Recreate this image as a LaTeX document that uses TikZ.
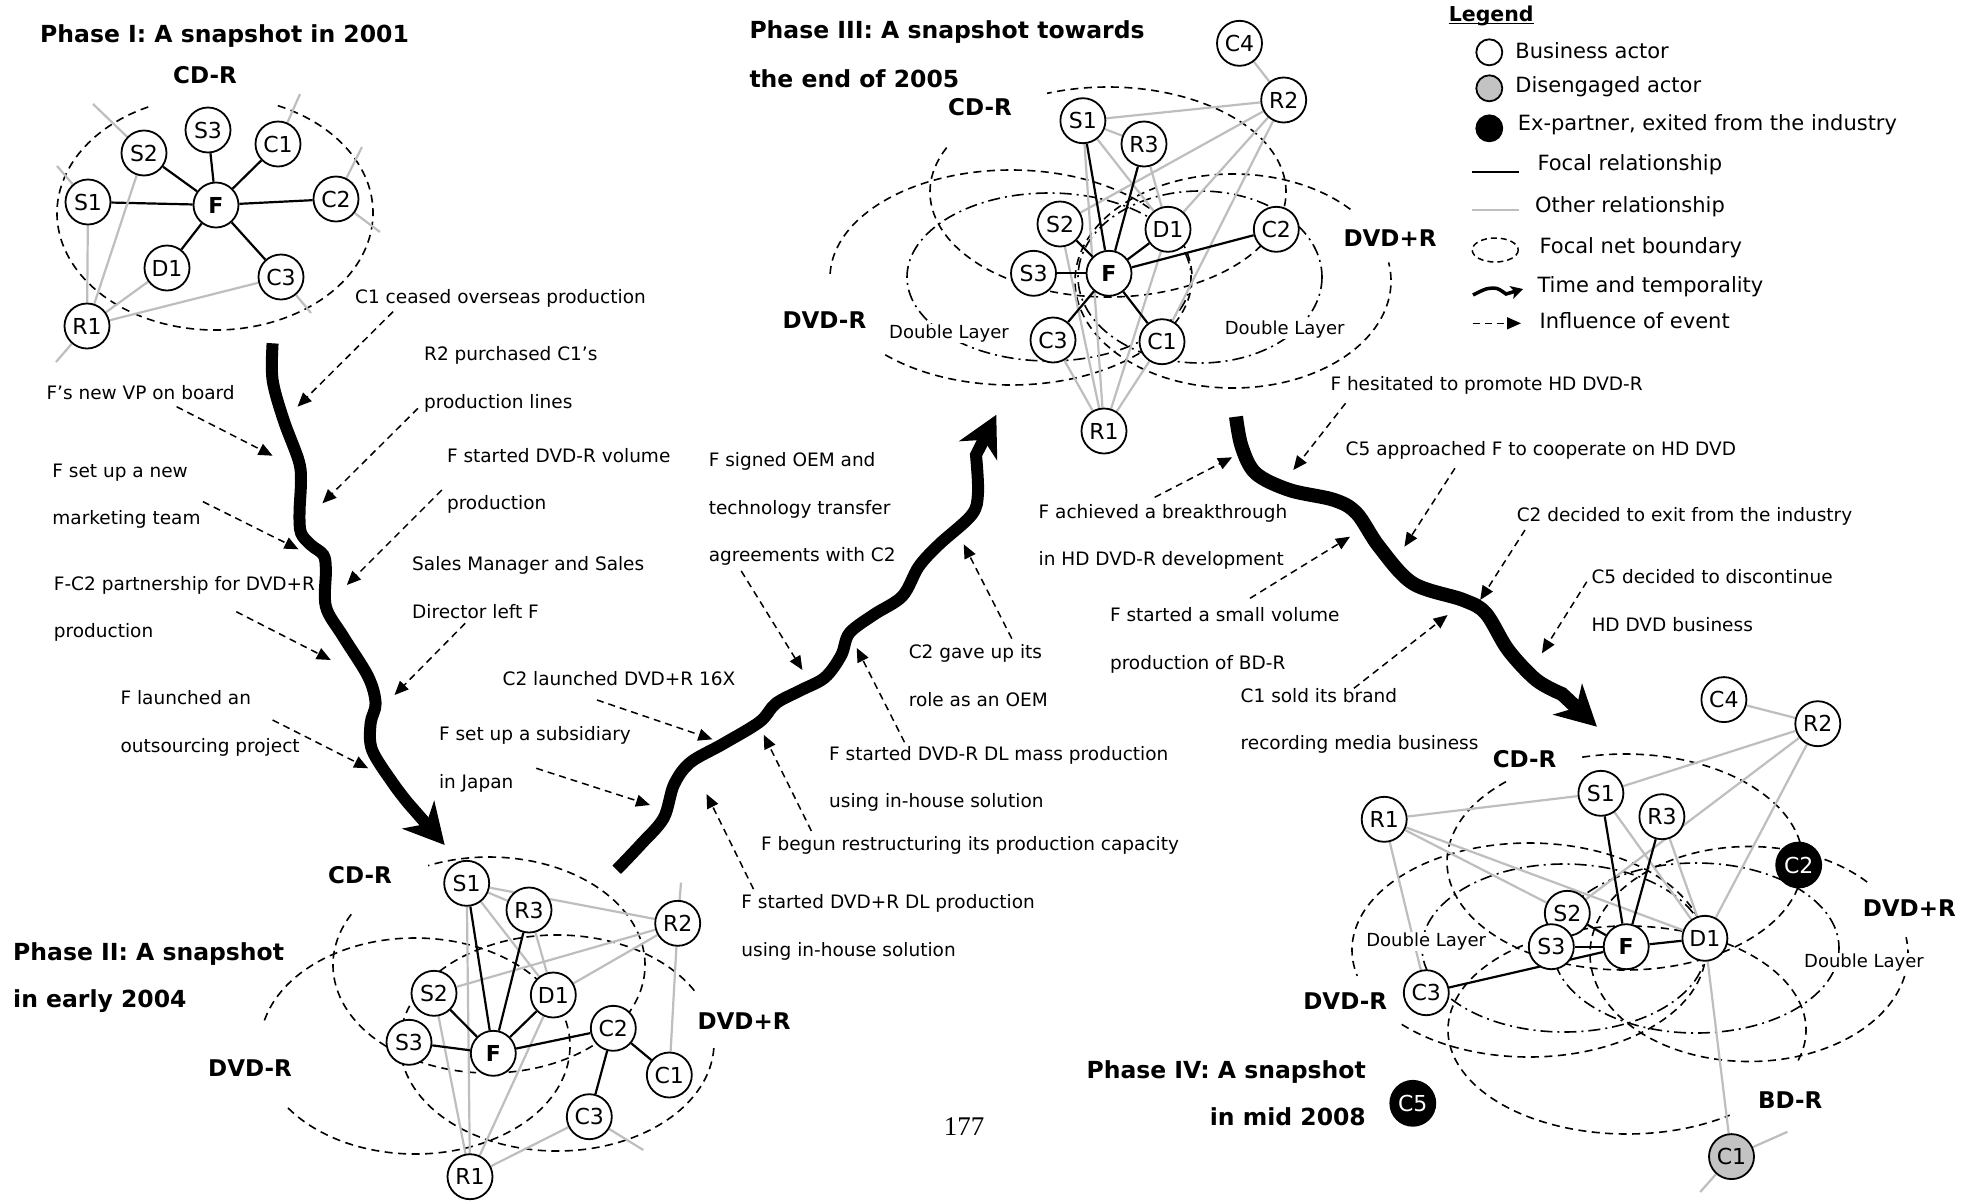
\documentclass[tikz,border=0pt]{standalone}
\usepackage{fontspec}
\setmainfont{DejaVu Sans}
\newfontfamily\folio{Liberation Serif}
\usetikzlibrary{arrows.meta}

\definecolor{relgrey}{HTML}{BEBEBE}
\definecolor{idlegrey}{HTML}{C3C3C3}

\pgfdeclarelayer{edges}
\pgfsetlayers{edges,main}

\newcommand\actorfont{\fontsize{22}{24}\selectfont}
\newcommand\eventfont{\fontsize{18.5}{47.5}\selectfont}
\newcommand\marketfont{\fontsize{23}{26}\selectfont\bfseries}
\newcommand\phasefont{\fontsize{23.5}{26}\selectfont\bfseries}
\newcommand\keyfont{\fontsize{21}{24}\selectfont}

% boundary arc: centre x, centre y, radii, first and last angle (counter-clockwise)
\newcommand\netarc[6]{%
  \draw[boundary] (#1,#2) ++(-#5:#3 and #4)
    arc[start angle=-#5,end angle=-#6,x radius=#3,y radius=#4];}

\begin{document}
\begin{tikzpicture}[x=1pt,y=-1pt,
  actor/.style={circle,draw,line width=1.8pt,fill=white,minimum size=45pt,inner sep=0pt,font=\actorfont},
  firm/.style={actor,font=\actorfont\bfseries},
  gone/.style={actor,fill=black,text=white},
  idle/.style={actor,fill=idlegrey},
  focal/.style={line width=2.2pt},
  other/.style={line width=2.2pt,draw=relgrey},
  boundary/.style={line width=1.6pt,dash pattern=on 8pt off 5.5pt},
  dlayer/.style={line width=1.6pt,dash pattern=on 12pt off 5pt on 2pt off 5pt},
  market/.style={inner sep=0pt,font=\marketfont},
  dltext/.style={fill=white,inner sep=1pt,font=\fontsize{18}{20}\selectfont},
  phase/.style={anchor=base west,inner sep=0pt,font=\phasefont},
  evt/.style={anchor=west,align=left,inner sep=0pt,font=\eventfont},
  infl/.style={line width=1.5pt,dash pattern=on 7pt off 5pt,-{Triangle[length=14pt,width=12pt]}},
  timeflow/.style={line width=12pt,-{Stealth[length=40pt,width=42pt,inset=12pt]}},
  keytext/.style={anchor=west,inner sep=0pt,font=\keyfont},
  keyactor/.style={circle,draw,line width=1.8pt,minimum size=26pt,inner sep=0pt}
]
\useasboundingbox (0,0) rectangle (1981,1200);
\begin{pgfonlayer}{edges}
  \fill[white] (0,0) rectangle (1981,1200);
\end{pgfonlayer}

% ---------- Phase I: 2001
\node[phase] (I-title) at (40,42.7) {Phase I: A snapshot in 2001};
\node[market] (I-cdr) at (205,75) {CD-R};
\foreach \n/\x/\y in {S3/208/130,C1/278/144,S2/144/153,S1/88/202,C2/336/199,D1/167/268,C3/281/277,R1/87/326}
  \node[actor] (I-\n) at (\x,\y) {\n};
\node[firm] (I-F) at (216,205) {F};
\begin{pgfonlayer}{edges}
  \netarc{215}{213}{158}{117}{115}{428}
  \foreach \m in {S1,S2,S3,C1,C2,D1,C3} \draw[focal] (I-F) -- (I-\m);
  \foreach \u/\v in {S1/R1,S2/R1,D1/R1,C3/R1} \draw[other] (I-\u) -- (I-\v);
  \foreach \n/\x/\y [count=\k] in {S2/93/104,S1/57/166,C1/300/94,C2/362/147,C2/380/232,C3/311/313,R1/56/362}{
    \coordinate (I-end\k) at (\x,\y);
    \draw[other] (I-\n) -- (I-end\k);}
\end{pgfonlayer}

% ---------- Phase II: early 2004
\node[phase] (II-title) at (13,960) {Phase II: A snapshot};
\node[phase] (II-title2) at (13,1007) {in early 2004};
\node[market] (II-cdr) at (360,875) {CD-R};
\node[market] (II-dvdm) at (250,1068) {DVD-R};
\node[market] (II-dvdp) at (744,1021) {DVD+R};
\foreach \n/\x/\y in {S1/466.7/883.3,R3/529/910,R2/677.7/923.3,S2/434/993.3,D1/553.3/995,C2/613.3/1028.3,S3/409/1042.3,C1/669.3/1075,C3/589.3/1116.7,R1/470/1176.7}
  \node[actor] (II-\n) at (\x,\y) {\n};
\node[firm] (II-F) at (493.3,1053.3) {F};
\begin{pgfonlayer}{edges}
  \netarc{489}{965}{156}{108}{152}{473}
  \netarc{415}{1046}{155}{108}{215}{529}
  \netarc{557}{1043}{157}{108}{29}{358}
  \foreach \u/\v in {S1/R3,S1/R2,S1/D1,R3/D1,S2/R2,D1/R2,R2/C1,S1/R1,S2/R1,D1/R1,R1/C3}
    \draw[other] (II-\u) -- (II-\v);
  \foreach \m in {S1,R3,S2,D1,S3,C2} \draw[focal] (II-F) -- (II-\m);
  \draw[focal] (II-C2) -- (II-C1);
  \draw[focal] (II-C2) -- (II-C3);
  \foreach \n/\x/\y [count=\k] in {R2/681/882.7,C3/643.3/1150}{
    \coordinate (II-end\k) at (\x,\y);
    \draw[other] (II-\n) -- (II-end\k);}
\end{pgfonlayer}

% ---------- Phase III: end of 2005
\node[phase] (III-title) at (749.3,38.5) {Phase III: A snapshot towards};
\node[phase] (III-title2) at (749.3,87) {the end of 2005};
\node[market] (III-cdr) at (980,106.7) {CD-R};
\node[market] (III-dvdm) at (824.4,320) {DVD-R};
\node[market] (III-dvdp) at (1390,238.3) {DVD+R};
\foreach \n/\x/\y in {C4/1239.5/43.3,R2/1283.7/100,S1/1082.9/120.7,R3/1144/144,S2/1060/224,D1/1168/229.3,C2/1276.3/229.3,S3/1033.5/273.3,C3/1053/340,C1/1162/341.7,R1/1104/431}
  \node[actor] (III-\n) at (\x,\y) {\n};
\node[firm] (III-F) at (1109,273.3) {F};
\node[dltext] (III-dl1) at (949,333.3) {Double Layer};
\node[dltext] (III-dl2) at (1284.7,329.3) {Double Layer};
\begin{pgfonlayer}{edges}
  \netarc{1108}{192}{178}{105}{155}{470}
  \netarc{1011}{277.5}{181}{107.5}{226}{541}
  \netarc{1233}{281}{158}{107}{42}{370}
  \draw[dlayer] (1049,277) ellipse[x radius=142,y radius=84];
  \draw[dlayer] (1200,277) ellipse[x radius=122,y radius=86];
  \foreach \u/\v in {S1/R2,S1/R3,S1/D1,R3/D1,R2/S2,R2/D1,R2/C1,R2/C4,R1/C3,R1/S2,R1/S1,R1/D1,R1/C1}
    \draw[other] (III-\u) -- (III-\v);
  \foreach \m in {S1,R3,S2,D1,C2,S3,C3,C1} \draw[focal] (III-F) -- (III-\m);
\end{pgfonlayer}

% ---------- Phase IV: mid 2008
\node[phase,anchor=base east] (IV-title) at (1366,1078) {Phase IV: A snapshot};
\node[phase,anchor=base east] (IV-title2) at (1366,1125) {in mid 2008};
\node[market] (IV-cdr) at (1524.6,759.2) {CD-R};
\node[market] (IV-dvdp) at (1909.3,908.3) {DVD+R};
\node[market] (IV-dvdm) at (1345.2,1000.8) {DVD-R};
\node[market] (IV-bdr) at (1790.3,1100) {BD-R};
\foreach \n/\x/\y in {C4/1723.9/699.6,R2/1817.8/723.7,S1/1600.9/793.3,R3/1661.9/816.7,R1/1384.2/819.3,S2/1567.3/913.3,D1/1704.9/938.3,S3/1551.3/946.7,C3/1426.3/992.7}
  \node[actor] (IV-\n) at (\x,\y) {\n};
\node[firm] (IV-F) at (1626.2,946.7) {F};
\node[gone] (IV-C2) at (1798.7,865) {C2};
\node[gone] (IV-C5) at (1412.8,1103.3) {C5};
\node[idle] (IV-C1) at (1731.5,1156.6) {C1};
\node[dltext] (IV-dl1) at (1426.2,941.7) {Double Layer};
\node[dltext] (IV-dl2) at (1864,962.3) {Double Layer};
\begin{pgfonlayer}{edges}
  \netarc{1625}{862}{178}{108}{132}{465}
  \netarc{1529}{950}{177}{107}{224}{554}
  \netarc{1749}{954}{159}{107.5}{42}{369}
  \netarc{1627}{1030}{179}{104}{343}{665}
  \draw[dlayer] (1564,948) ellipse[x radius=142,y radius=84];
  \draw[dlayer] (1696,948) ellipse[x radius=143,y radius=85];
  \foreach \u/\v in {R1/S1,R1/S2,R1/D1,R1/C3,S1/R2,S1/D1,R3/D1,R2/S2,R2/D1,R2/C4,D1/C1}
    \draw[other] (IV-\u) -- (IV-\v);
  \foreach \m in {S1,R3,S2,S3,D1,C3} \draw[focal] (IV-F) -- (IV-\m);
  \foreach \n/\x/\y [count=\k] in {C1/1787.4/1131.8,C1/1700.2/1192}{
    \coordinate (IV-end\k) at (\x,\y);
    \draw[other] (IV-\n) -- (IV-end\k);}
\end{pgfonlayer}

% ---------- time and temporality
\draw[timeflow] plot[smooth,tension=0.55] coordinates {(272.6,343.3) (272.6,380) (283.6,420) (298.5,460) (301,480) (299.5,513) (301,533) (311,545) (323.4,555) (325.9,570) (325.9,606.7) (343.3,636.7) (368.2,676.7) (375.6,703.3) (370.6,723.3) (372.1,750) (393,783.3) (408,803)} -- (444.7,845);
\draw[timeflow] plot[smooth,tension=0.55] coordinates {(616.7,869.8) (641.2,844) (663.7,818) (673.9,784.8) (690.2,762.6) (722.9,744) (759.6,721.9) (775.9,703.4) (800.4,690.4) (824.9,677.5) (841.2,655.3) (849.4,633.1) (873.9,614.6) (902.4,596.1) (918.8,566.5) (939.2,544.3) (971.8,514.7) (978,492.5) (976,455)} -- (996.3,414.8);
\draw[timeflow,line width=14pt] plot[smooth,tension=0.55] coordinates {(1236,416.7) (1241.7,446.7) (1255.7,473.3) (1289.4,490) (1334.3,500) (1356.7,513.3) (1379.1,546.7) (1412.8,583.3) (1463.3,600) (1485.8,613.3) (1508.2,650) (1536.3,680) (1562,694)} -- (1596.9,726.7);

% ---------- events
\foreach \k/\x/\y/\t in {
  1/355/298.3/{C1 ceased overseas production},
  2/424/379.4/{R2 purchased C1’s\\production lines},
  3/46.3/392.7/{F’s new VP on board},
  4/52.2/496.4/{F set up a new\\marketing team},
  5/446.8/480.9/{F started DVD-R volume\\production},
  6/412/587.5/{Sales Manager and Sales\\Director left F},
  7/53.7/608.9/{F-C2 partnership for DVD+R\\production},
  8/120.4/723.4/{F launched an\\outsourcing project},
  9/502.5/678.3/{C2 launched DVD+R 16X},
  10/438.8/759.4/{F set up a subsidiary\\in Japan},
  11/708.6/509.1/{F signed OEM and\\technology transfer\\agreements with C2},
  12/908.6/675.7/{C2 gave up its\\role as an OEM},
  13/829/778.9/{F started DVD-R DL mass production\\using in-house solution},
  14/760.8/845.8/{F begun restructuring its production capacity},
  15/741.2/927.6/{F started DVD+R DL production\\using in-house solution},
  16/1330.3/385/{F hesitated to promote HD DVD-R},
  17/1345.5/450.7/{C5 approached F to cooperate on HD DVD},
  18/1038.5/536.7/{F achieved a breakthrough\\in HD DVD-R development},
  19/1516.6/516.7/{C2 decided to exit from the industry},
  20/1591.3/600.5/{C5 decided to discontinue\\HD DVD business},
  21/1109.8/640.4/{F started a small volume\\production of BD-R},
  22/1240.5/720.9/{C1 sold its brand\\recording media business}}
  \node[evt] (ev\k) at (\x,\y) {\t};

\foreach \k/\ax/\ay/\bx/\by in {
  1/393/311.7/297.5/406.7, 2/418/408.3/322.4/503.3, 3/176.6/406.7/272.6/455.7,
  4/203/501.7/298.5/549.3, 5/441.8/490/346.8/585, 6/465.2/623.3/394.5/695,
  7/236.3/611.7/330.8/660, 8/272.6/720/368.2/768.3, 9/597/700/712.4/739.3,
  10/536.3/768.3/650/805, 11/741.2/570.9/802.4/670, 12/1011.8/638.6/963.7/544.3,
  13/904.5/742.2/856.7/647.9, 14/811.4/831/763.7/734.8, 15/753.5/889.1/706.5/794,
  16/1345.5/403.3/1293.3/470, 17/1454.9/468.3/1404.4/546.7, 18/1154.7/497.3/1232.1/457.3,
  19/1525/530/1480.2/600, 20/1586.8/581.7/1541.9/653.3, 21/1250/598.3/1350/536.7,
  22/1353.9/688.3/1447.6/615}{
  \coordinate (ev\k-from) at (\ax,\ay);
  \coordinate (ev\k-to) at (\bx,\by);
  \draw[infl] (ev\k-from) -- (ev\k-to);}

% ---------- legend
\node[anchor=base west,inner sep=0pt,font=\fontsize{20.5}{24}\selectfont\bfseries] (lg) at (1448.6,21.7) {Legend};
\draw[line width=1.8pt] ([yshift=-1.8pt]lg.base west) -- ([yshift=-1.8pt]lg.base east);
\node[keyactor,fill=white] (lg-a) at (1489.3,52.3) {};
\node[keyactor,fill=idlegrey] (lg-b) at (1489.3,88.3) {};
\node[keyactor,fill=black] (lg-c) at (1489.3,128.3) {};
\node[keytext] (lg-at) at (1515.2,50.7) {Business actor};
\node[keytext] (lg-bt) at (1515.2,86.7) {Disengaged actor};
\node[keytext] (lg-ct) at (1517.6,124.3) {Ex-partner, exited from the industry};
\draw[focal] (1471.7,171.7) -- (1519.4,171.7);
\node[keytext] (lg-dt) at (1537.3,165) {Focal relationship};
\draw[other,line width=2.6pt] (1471.7,210) -- (1519.4,210);
\node[keytext] (lg-et) at (1534.9,206.7) {Other relationship};
\draw[line width=1.5pt,dash pattern=on 6pt off 4pt] (1495.2,250) ellipse[x radius=23,y radius=12];
\node[keytext] (lg-ft) at (1539.4,247.3) {Focal net boundary};
\draw[line width=3.5pt,-{Stealth[length=12pt,width=13pt,inset=3pt]}] plot[smooth] coordinates {(1473,295) (1486,289) (1497,288.5) (1506,294)} -- (1523,289);
\node[keytext] (lg-gt) at (1537.3,286.7) {Time and temporality};
\draw[infl] (1472.8,323.3) -- (1521,323.3);
\node[keytext] (lg-ht) at (1539.4,320.7) {Influence of event};

\node[font=\folio\fontsize{27}{30}\selectfont,inner sep=0pt] (folio) at (964,1127) {177};
\end{tikzpicture}
\end{document}
